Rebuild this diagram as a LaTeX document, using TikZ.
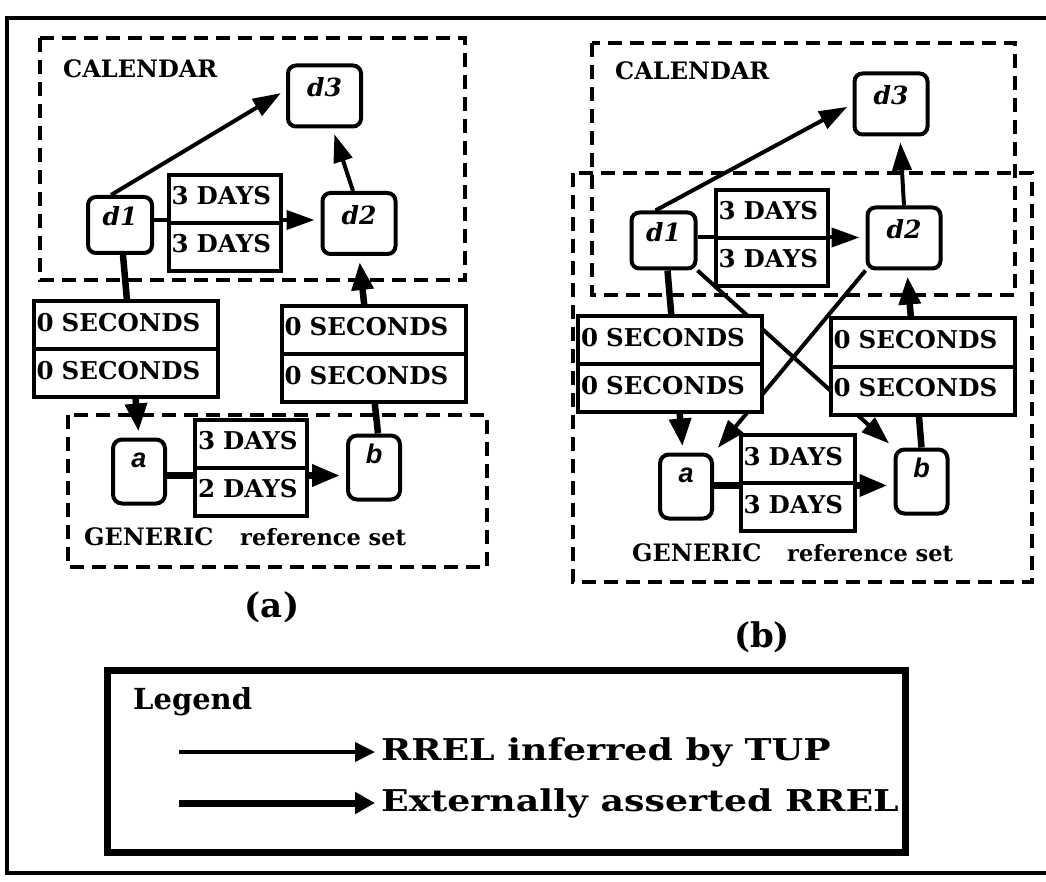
\documentclass[tikz,border=0pt]{standalone}
\usepackage{fontspec}
\setmainfont{DejaVu Serif}
\setsansfont{Liberation Sans}
\newfontfamily\widefont{DejaVu Serif}[FakeStretch=1.21]
\usetikzlibrary{arrows.meta, shapes.multipart, backgrounds, positioning}
\newcommand\durgap{\rule[-13pt]{0pt}{38pt}}

\begin{document}
\begin{tikzpicture}[x=1pt,y=-1pt,
  every node/.style={inner sep=0pt},
  dbox/.style={draw, line width=4pt, rounded corners=8pt, fill=white,
    minimum width=73pt, minimum height=61pt, text height=18pt, text depth=16pt,
    font=\fontsize{25}{25}\selectfont\bfseries\itshape},
  ebox/.style={draw, line width=4pt, rounded corners=9pt, fill=white,
    minimum width=52pt, minimum height=64pt, text height=19pt, text depth=27pt,
    font=\fontsize{27}{27}\selectfont\sffamily\bfseries\itshape},
  durbox/.style={rectangle split, rectangle split parts=2, draw, line width=4pt,
    fill=white, align=left, inner xsep=3pt, inner ysep=3pt,
    font=\fontsize{24.5}{24.5}\selectfont\bfseries},
  groupbox/.style={line width=4pt, dash pattern=on 14pt off 8pt},
  grouplabel/.style={anchor=west, font=\fontsize{24}{24}\selectfont\bfseries},
  inferred/.style={line width=4pt, -{Triangle[length=28pt,width=19pt]}, shorten >=6pt},
  asserted/.style={line width=6.5pt, -{Triangle[length=28pt,width=21pt]}, shorten >=6pt},
]
  \path[use as bounding box] (0,0) rectangle (1046,882);
  \draw[line width=4.5pt] (1046,18) -- (7,18) -- (7,873) -- (1046,873);

  % (a)
  \node[dbox] (d3a) at (324.5,96) {d3};
  \node[dbox, minimum width=64pt, minimum height=56pt] (d1a) at (120,225) {d1};
  \node[dbox] (d2a) at (359,223.5) {d2};
  \node[ebox] (aa) at (139,471.5) {a};
  \node[ebox] (ba) at (374,467.5) {b};
  \node[durbox, text width=106pt] (cda) at (224.5,223) {\durgap 3 DAYS\nodepart{two}\durgap 3 DAYS};
  \node[durbox, text width=106pt] (gda) at (251,467.5) {\durgap 3 DAYS\nodepart{two}\durgap 2 DAYS};
  \node[durbox, text width=178pt] (lsa) at (125.5,349) {\durgap 0 SECONDS\nodepart{two}\durgap 0 SECONDS};
  \node[durbox, text width=178pt] (rsa) at (373.5,354) {\durgap 0 SECONDS\nodepart{two}\durgap 0 SECONDS};
  \node[grouplabel] (cala) at (63,69) {CALENDAR};
  \node[grouplabel] (gena) at (84,537) {GENERIC};
  \node[grouplabel, font=\fontsize{22.5}{22.5}\selectfont\bfseries] (refa) at (240,537) {reference set};
  \node[font=\fontsize{34}{34}\selectfont\bfseries] (capa) at (272,607) {(a)};

  % (b)
  \node[dbox] (d3b) at (891,104) {d3};
  \node[dbox, minimum width=64pt, minimum height=56pt] (d1b) at (663.5,240.5) {d1};
  \node[dbox] (d2b) at (904,238) {d2};
  \node[ebox] (ab) at (686,486.5) {a};
  \node[ebox] (bb) at (921.5,481.5) {b};
  \node[durbox, text width=106pt] (cdb) at (771.5,238) {\durgap 3 DAYS\nodepart{two}\durgap 3 DAYS};
  \node[durbox, text width=108pt] (gdb) at (797.5,483) {\durgap 3 DAYS\nodepart{two}\durgap 3 DAYS};
  \node[durbox, text width=178pt] (lsb) at (670,364) {\durgap 0 SECONDS\nodepart{two}\durgap 0 SECONDS};
  \node[durbox, text width=178pt] (rsb) at (922.5,366.5) {\durgap 0 SECONDS\nodepart{two}\durgap 0 SECONDS};
  \node[grouplabel] (calb) at (615,71) {CALENDAR};
  \node[grouplabel] (genb) at (632,553) {GENERIC};
  \node[grouplabel, font=\fontsize{22.5}{22.5}\selectfont\bfseries] (refb) at (787,553) {reference set};
  \node[font=\fontsize{34}{34}\selectfont\bfseries] (capb) at (762,637) {(b)};

  \begin{scope}[on background layer]
    \draw[groupbox] (40,38) rectangle (465,280);
    \draw[groupbox] (68,415) rectangle (487,567);
    \draw[groupbox] (592,43) rectangle (1015,295);
    \draw[groupbox] (573,173) rectangle (1032,582);
    % links (a)
    \draw[inferred] ([xshift=-9pt]d1a.north) -- ([yshift=6pt]d3a.west);
    \draw[inferred] ([xshift=-6pt]d2a.north) -- ([xshift=8pt]d3a.south);
    \draw[inferred] ([yshift=5pt]d1a.east) -- ([yshift=5pt]d1a.east -| d2a.west);
    \draw[asserted] ([xshift=3pt]d1a.south) -- (aa.north);
    \draw[asserted] ([xshift=4pt]ba.north) -- (d2a.south);
    \draw[asserted] ([yshift=-4pt]aa.east) -- ([yshift=-4pt]aa.east -| ba.west);
    % links (b)
    \draw[inferred] ([xshift=-8pt]d1b.north) -- (d3b.west);
    \draw[inferred] (d2b.north) -- ([xshift=9pt]d3b.south);
    \draw[inferred] ([yshift=3pt]d1b.east) -- ([yshift=3pt]d1b.east -| d2b.west);
    \draw[asserted] ([xshift=4pt]d1b.south) -- ([xshift=-3pt]ab.north);
    \draw[asserted] (bb.north) -- ([xshift=3pt]d2b.south);
    \draw[inferred] (d1b.south east) -- (bb.north west);
    \draw[inferred] (d2b.south west) -- (ab.north east);
    \draw[asserted] ([yshift=1pt]ab.east) -- ([yshift=1pt]ab.east -| bb.west);
  \end{scope}

  % legend
  \draw[line width=7pt] (107,670) rectangle (905,852);
  \node[anchor=west, font=\fontsize{29}{29}\selectfont\bfseries] (leghead) at (133,702) {Legend};
  \node[anchor=west, font=\fontsize{30}{30}\selectfont\widefont\bfseries] (legthin) at (381,752) {RREL inferred by TUP};
  \node[anchor=west, font=\fontsize{30}{30}\selectfont\widefont\bfseries] (legthick) at (381,803) {Externally asserted RREL};
  \coordinate (thinstart) at (179,752);
  \coordinate (thickstart) at (179,803);
  \draw[line width=4pt, -{Triangle[length=20pt,width=19pt]}, shorten >=6pt] (thinstart) -- (legthin.west);
  \draw[line width=7pt, -{Triangle[length=20pt,width=21pt]}, shorten >=6pt] (thickstart) -- (legthick.west);
\end{tikzpicture}
\end{document}
